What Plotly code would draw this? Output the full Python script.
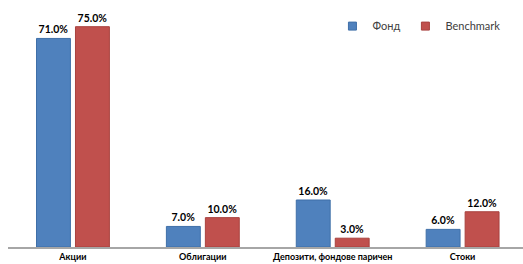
import plotly.graph_objects as go

categories = ["Акции", "Облигации", "Депозити, фондове паричен", "Стоки"]
fond = [71.0, 7.0, 16.0, 6.0]
benchmark = [75.0, 10.0, 3.0, 12.0]
series_names = ["Фонд", "Benchmark"]
colors = ["#4F81BD", "#C0504D"]
edge_colors = ["#3F6FA8", "#A8413E"]

FONT = "Lato, 'Open Sans', sans-serif"

fig = go.Figure()
for name, vals, col, ecol in zip(series_names, [fond, benchmark], colors, edge_colors):
    fig.add_trace(go.Bar(
        x=categories, y=vals, name=name, showlegend=False,
        marker=dict(color=col, line=dict(color=ecol, width=1)),
        texttemplate="<b>%{y:.1f}%</b>", textposition="outside",
        textfont=dict(size=10.5, color="#000000", family=FONT),
        cliponaxis=False,
    ))
for name, col, ecol in zip(series_names, colors, edge_colors):
    fig.add_trace(go.Scatter(
        x=[None], y=[None], mode="markers", name=name, showlegend=True,
        marker=dict(symbol="square", size=8, color=col, line=dict(color=ecol, width=1)),
    ))

fig.update_layout(
    width=523, height=264,
    margin=dict(l=7.5, r=0, t=12, b=17, autoexpand=False),
    paper_bgcolor="white", plot_bgcolor="white",
    barmode="group", bargap=0.4, bargroupgap=0.13,
    font=dict(family=FONT, size=10, color="#404040"),
    showlegend=True,
    legend=dict(
        orientation="h", x=0.63, xanchor="left", y=0.94, yanchor="middle",
        font=dict(size=11, color="#404040", family=FONT),
        itemwidth=30, bgcolor="rgba(0,0,0,0)",
    ),
)
fig.update_xaxes(
    type="category", range=[-0.5, 3.465], automargin=False,
    showline=True, linecolor="#A6A6A6", linewidth=1.5,
    showgrid=False, ticks="",
    tickmode="array", tickvals=categories,
    ticktext=["<b>" + c + "</b>" for c in categories],
    tickfont=dict(size=9, color="#000000", family=FONT),
)
fig.update_yaxes(range=[0, 80], visible=False, showgrid=False, automargin=False)

fig.write_html("out.html", config={"displayModeBar": False},
               post_script="document.body.style.margin='0';")
